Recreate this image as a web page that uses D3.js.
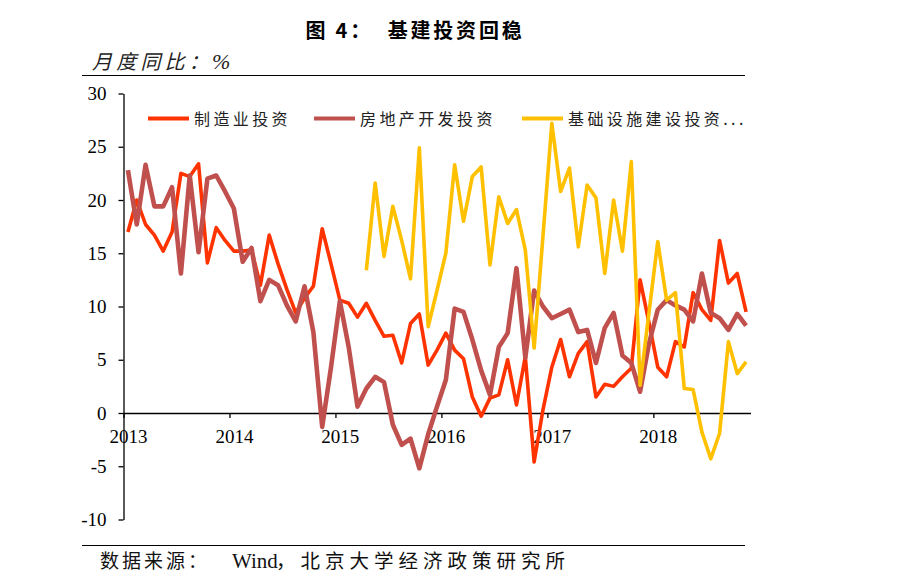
<!DOCTYPE html>
<html><head><meta charset="utf-8">
<script src="https://cdn.jsdelivr.net/npm/d3@7"></script>
<style>
html,body{margin:0;padding:0;background:#fff;}
svg{display:block;}
</style></head>
<body>
<script>
// ---- data ----
const categories = [
"2013-01","2013-02","2013-03","2013-04","2013-05","2013-06","2013-07","2013-08","2013-09","2013-10","2013-11","2013-12",
"2014-01","2014-02","2014-03","2014-04","2014-05","2014-06","2014-07","2014-08","2014-09","2014-10","2014-11","2014-12",
"2015-01","2015-02","2015-03","2015-04","2015-05","2015-06","2015-07","2015-08","2015-09","2015-10","2015-11","2015-12",
"2016-01","2016-02","2016-03","2016-04","2016-05","2016-06","2016-07","2016-08","2016-09","2016-10","2016-11","2016-12",
"2017-01","2017-02","2017-03","2017-04","2017-05","2017-06","2017-07","2017-08","2017-09","2017-10","2017-11","2017-12",
"2018-01","2018-02","2018-03","2018-04","2018-05","2018-06","2018-07","2018-08","2018-09","2018-10","2018-11"];

const manufacturing = [17.0,20.0,17.7,16.7,15.2,17.0,22.5,22.2,23.4,14.1,17.4,16.2,
15.2,15.2,15.3,12.0,16.7,14.0,11.6,9.4,10.8,11.9,17.3,14.0,
10.6,10.3,9.0,10.3,8.7,7.2,7.3,4.7,8.4,9.3,4.5,5.9,
7.5,5.9,5.1,1.5,-0.3,1.4,1.7,5.0,0.75,5.3,-4.6,0.3,
4.3,6.9,3.4,5.6,6.7,1.5,2.7,2.5,3.4,4.2,12.5,8.5,
4.3,3.4,6.7,6.2,11.3,9.7,8.7,16.2,12.2,13.1,9.5];

const realEstate = [22.8,17.7,23.3,19.4,19.4,21.2,13.1,22.3,15.1,22.0,22.3,20.8,
19.2,14.2,15.5,10.5,12.5,12.0,10.1,8.6,11.9,7.6,-1.3,4.3,
10.5,6.2,0.6,2.3,3.4,2.9,-1.1,-3.0,-2.4,-5.2,-2.0,0.6,
3.1,9.8,9.5,6.9,4.0,1.7,6.2,7.5,13.6,5.2,11.5,10.0,
8.9,9.3,9.7,7.6,7.8,4.7,8.0,9.4,5.4,4.7,2.0,6.5,
9.7,10.6,10.1,9.7,8.6,13.1,9.4,8.9,7.8,9.3,8.2];

const infrastructure = [null,null,null,null,null,null,null,null,null,null,null,null,
null,null,null,null,null,null,null,null,null,null,null,null,
null,null,null,13.4,21.6,14.7,19.4,16.2,12.6,24.9,8.1,11.5,
15.0,23.3,18.0,22.2,23.1,13.9,20.3,17.8,19.1,15.3,6.1,16.6,
27.2,20.8,23.0,15.6,21.4,20.2,13.1,20.0,15.2,23.6,2.6,9.4,
16.1,10.6,11.3,2.3,2.2,-1.8,-4.3,-1.9,6.7,3.7,4.8];

const seriesNames = ["制造业投资","房地产开发投资","基础设施建设投资..."];
const seriesColors = ["#FF3300","#C0504D","#FFC000"];
const yTicks = [-10,-5,0,5,10,15,20,25,30];
const yearLabels = ["2013","2014","2015","2016","2017","2018"];
const title = "图 4：  基建投资回稳";
const unitLabel = "月度同比：";
const unitSymbol = "%";
const sourceLead = "数据来源：";
const sourceWind = "Wind";
const sourceRest = "，北京大学经济政策研究所";

// ---- drawing ----
const W = 901, H = 584;
const svg = d3.select("body").append("svg").attr("width", W).attr("height", H);

const x = d3.scaleLinear().domain([-0.5, categories.length - 0.5]).range([123.5, 750.5]);
const y = d3.scaleLinear().domain([-10, 30]).range([519.5, 93.5]);

const serif = "'Liberation Serif','Times New Roman',serif";
const cjk = "'Noto Sans CJK SC','Noto Sans SC',sans-serif";

// title
svg.append("text").attr("x", 415).attr("y", 38).attr("text-anchor","middle")
  .attr("font-family", cjk).attr("font-weight","bold").attr("font-size", 20)
  .attr("letter-spacing", 2.8).attr("fill","#000")
  .style("white-space","pre").text(title);

// unit label
const ut = svg.append("text").attr("x", 92).attr("y", 69).attr("fill","#222")
  .attr("font-style","italic");
ut.append("tspan").attr("font-family", cjk).attr("font-size", 20).attr("letter-spacing", 4.2).text(unitLabel);
ut.append("tspan").attr("x", 212).attr("font-family", serif).attr("font-size", 22).text(unitSymbol);

// rules
svg.append("line").attr("x1", 82).attr("x2", 745).attr("y1", 75.5).attr("y2", 75.5)
  .attr("stroke","#000").attr("stroke-width",1.2);
svg.append("line").attr("x1", 82).attr("x2", 745).attr("y1", 545.5).attr("y2", 545.5)
  .attr("stroke","#000").attr("stroke-width",1.2);

// source
const st = svg.append("text").attr("y", 568).attr("fill","#111");
st.append("tspan").attr("x", 100).attr("font-family", cjk).attr("font-size", 19).attr("letter-spacing", 3).text(sourceLead);
st.append("tspan").attr("x", 232).attr("font-family", serif).attr("font-size", 21).text(sourceWind);
st.append("tspan").attr("x", 276).attr("font-family", cjk).attr("font-size", 19.5).attr("letter-spacing", 5).text(sourceRest);

// y axis
const yAxis = d3.axisLeft(y).tickValues(yTicks).tickSize(5).tickSizeOuter(0).tickPadding(12)
  .tickFormat(d => String(d));
const gy = svg.append("g").attr("transform", `translate(${x(-0.5)},0)`).call(yAxis);
gy.select(".domain").attr("stroke","#000").attr("stroke-width",1.3);
gy.selectAll(".tick line").attr("stroke","#000").attr("stroke-width",1.3);
gy.selectAll(".tick text").attr("font-family", serif).attr("font-size", 19).attr("fill","#000");

// x axis ticks (between categories)
const tickIdx = yearLabels.map((_, i) => i * 12 - 0.5);
const xAxisTicks = d3.axisBottom(x).tickValues(tickIdx).tickSize(5).tickSizeOuter(0).tickFormat("");
const gx = svg.append("g").attr("transform", `translate(0,${y(0)})`).call(xAxisTicks);
gx.select(".domain").attr("stroke","#000").attr("stroke-width",1.3);
gx.selectAll(".tick line").attr("stroke","#000").attr("stroke-width",1.3);

// x axis labels (centered on January)
const labelIdx = yearLabels.map((_, i) => i * 12);
const xAxisLabels = d3.axisBottom(x).tickValues(labelIdx).tickSize(0).tickPadding(17)
  .tickFormat((d, i) => yearLabels[i]);
const gxl = svg.append("g").attr("transform", `translate(0,${y(0)})`).call(xAxisLabels);
gxl.select(".domain").remove();
gxl.selectAll(".tick text").attr("font-family", serif).attr("font-size", 19).attr("fill","#000");

// lines
const allSeries = [manufacturing, realEstate, infrastructure];
const widths = [3.6, 4.6, 3.6];
const line = d3.line().defined(d => d != null).x((d, i) => x(i)).y(d => y(d));
allSeries.forEach((s, k) => {
  svg.append("path").datum(s).attr("d", line).attr("fill","none")
    .attr("stroke", seriesColors[k]).attr("stroke-width", widths[k])
    .attr("stroke-linejoin","round").attr("stroke-linecap","butt");
});

// legend
const legendX = [148, 314, 522];
const lg = svg.append("g");
seriesNames.forEach((n, k) => {
  lg.append("line").attr("x1", legendX[k]).attr("x2", legendX[k] + 41)
    .attr("y1", 118.5).attr("y2", 118.5).attr("stroke", seriesColors[k]).attr("stroke-width", 4);
  lg.append("text").attr("x", legendX[k] + 46).attr("y", 125)
    .attr("font-family", cjk).attr("font-size", 16).attr("letter-spacing", 3.4)
    .attr("fill","#222").text(n);
});
</script>
</body></html>
